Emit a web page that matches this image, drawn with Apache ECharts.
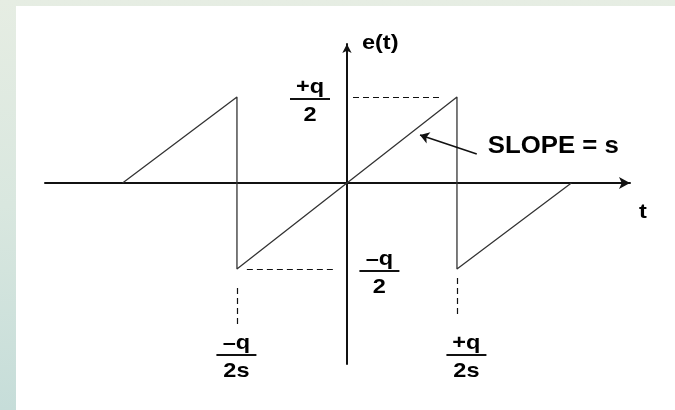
<!DOCTYPE html>
<html>
<head>
<meta charset="utf-8">
<script src="https://cdn.jsdelivr.net/npm/echarts@6/dist/echarts.min.js"></script>
<style>
  html, body { margin: 0; padding: 0; }
  body {
    width: 675px; height: 410px; overflow: hidden; position: relative;
    background: linear-gradient(to bottom, #e6ede3 0%, #d9e7df 50%, #c6ddd9 100%);
  }
  #sheet { position: absolute; left: 16px; top: 6px; right: 0; bottom: 0; background: #fff; }
  #chart { position: absolute; left: 0; top: 0; width: 675px; height: 410px; }
</style>
</head>
<body>
<div id="sheet"></div>
<div id="chart"></div>
<script>
// Quantization error e(t): sawtooth with slope s, in units of q/(2s) on t and q/2 on e
const sawT = [-2.04, -1, -1, 1, 1, 2.04];
const sawE = [0, 1, -1, 1, -1, 0];

// Dashed guide segments [t0, e0, t1, e1]
const guideSegments = [
  [0.055, 1, 0.845, 1],
  [-0.91, -1, -0.127, -1],
  [-1, -1.22, -1, -1.674],
  [1, -1.105, 1, -1.57]
];

// Fraction labels: anchor (t, e) sits at the fraction bar centre
const fracT = [-0.336, 0.295, -1.005, 1.086];
const fracE = [0.977, -1.023, -2.0, -2.0];
const fracNum = ['+q', '\u2013q', '\u2013q', '+q'];
const fracDen = ['2', '2', '2s', '2s'];

// Plain text labels
const textT = [0.136, 2.69, 1.28];
const textE = [1.628, -0.34, 0.42];
const textStr = ['e(t)', 't', 'SLOPE = s'];
const textAlign = ['left', 'center', 'left'];

// Pointer from the slope note to the ramp
const pointer = [[1.18, 0.337], [0.664, 0.558]];

const FONT = '"Liberation Sans", Arial, sans-serif';
const STRETCH = 1.12;

const chart = echarts.init(document.getElementById('chart'), null, { renderer: 'canvas' });

chart.setOption({
  backgroundColor: 'transparent',
  animation: false,
  grid: { left: 45, right: 45, top: 44, bottom: 46 },
  xAxis: {
    type: 'value', min: -2.745, max: 2.573,
    axisLine: { onZero: true, lineStyle: { color: '#111', width: 2 },
      symbol: ['none', 'arrow'], symbolSize: [9, 11], symbolOffset: [0, 0] },
    axisTick: { show: false }, axisLabel: { show: false }, splitLine: { show: false }
  },
  yAxis: {
    type: 'value', min: -2.105, max: 1.617,
    axisLine: { onZero: true, lineStyle: { color: '#111', width: 2 },
      symbol: ['none', 'arrow'], symbolSize: [7, 9], symbolOffset: [0, 0] },
    axisTick: { show: false }, axisLabel: { show: false }, splitLine: { show: false }
  },
  series: [
    {
      type: 'line',
      data: sawT.map((t, i) => [t, sawE[i]]),
      showSymbol: false,
      lineStyle: { color: '#333', width: 1.3 },
      z: 3
    },
    {
      type: 'lines',
      coordinateSystem: 'cartesian2d',
      data: guideSegments.map(s => ({ coords: [[s[0], s[1]], [s[2], s[3]]] })),
      lineStyle: { color: '#111', width: 1.2, type: [6, 4], opacity: 1 },
      symbol: 'none',
      z: 2
    },
    {
      type: 'lines',
      coordinateSystem: 'cartesian2d',
      data: [{ coords: pointer }],
      lineStyle: { color: '#111', width: 1.6, opacity: 1 },
      symbol: ['none', 'arrow'],
      symbolSize: 9,
      z: 4
    },
    {
      type: 'custom',
      clip: false,
      data: fracT.map((t, i) => [t, fracE[i]]),
      renderItem: function (params, api) {
        const p = api.coord([api.value(0), api.value(1)]);
        const i = params.dataIndex;
        return {
          type: 'group',
          children: [
            { type: 'text', x: p[0], y: p[1] - 1, scaleX: STRETCH,
              style: { text: fracNum[i], font: 'bold 21px ' + FONT, fill: '#000', align: 'center', verticalAlign: 'bottom' } },
            { type: 'rect', shape: { x: p[0] - 20, y: p[1] - 1, width: 40, height: 2 },
              style: { fill: '#111' } },
            { type: 'text', x: p[0], y: p[1] + 6, scaleX: STRETCH,
              style: { text: fracDen[i], font: 'bold 21px ' + FONT, fill: '#000', align: 'center', verticalAlign: 'top' } }
          ]
        };
      },
      z: 5
    },
    {
      type: 'custom',
      clip: false,
      data: textT.map((t, i) => [t, textE[i]]),
      renderItem: function (params, api) {
        const p = api.coord([api.value(0), api.value(1)]);
        const i = params.dataIndex;
        const size = textStr[i].length > 4 ? 23 : 21;
        return {
          type: 'text', x: p[0], y: p[1], scaleX: STRETCH,
          style: { text: textStr[i], font: 'bold ' + size + 'px ' + FONT, fill: '#000',
            align: textAlign[i], verticalAlign: 'middle' }
        };
      },
      z: 5
    }
  ]
});
</script>
</body>
</html>
